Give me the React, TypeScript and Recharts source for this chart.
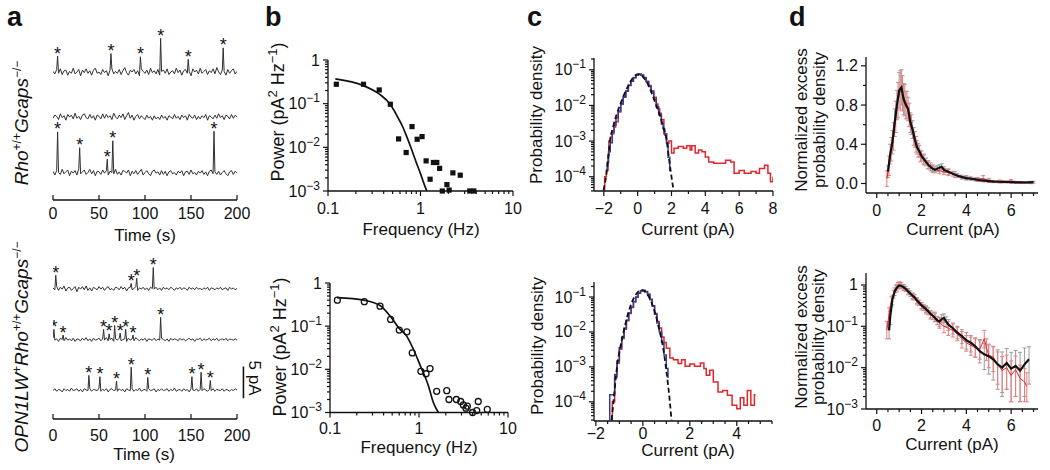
import React from 'react';
import { ComposedChart, Line, Scatter, XAxis, YAxis, ErrorBar, ReferenceLine } from 'recharts';

const FONT = '"Liberation Sans", Arial, Helvetica, sans-serif';
const INK = '#111';
const RED = '#e3262b';
const BLUE = '#2e3f98';

// ---------------- panel a: single-photon response traces ----------------
const aTimeTicks = [0, 50, 100, 150, 200];
const aSampleStep = 2; // seconds between noise samples
type Spike = { t: number; amp: number };

const aTopNoise1 = [
  0.1, -0.3, 0.4, -0.2, 0.5, -0.4, 0.2, 0.3, -0.5, 0.1,
  -0.2, 0.6, -0.3, 0.0, 0.4, -0.6, 0.3, -0.1, 0.5, -0.2,
  0.2, -0.5, 0.3, 0.6, -0.2, 0.0, -0.4, 0.4, -0.1, 0.2,
  -0.6, 0.3, 0.5, -0.3, 0.1, -0.2, 0.4, -0.4, 0.2, 0.7,
  -0.1, -0.5, 0.3, 0.0, 0.4, -0.3, 0.2, -0.6, 0.5, 0.1,
  -0.2, 0.3, -0.4, 0.6, -0.1, 0.2, -0.3, 0.4, -0.5, 0.1,
  0.3, -0.2, 0.5, -0.4, 0.0, 0.2, -0.3, 0.6, -0.1, 0.3,
  -0.5, 0.2, 0.4, -0.2, 0.1, -0.6, 0.5, 0.0, 0.3, -0.3,
  0.6, -0.2, 0.1, 0.4, -0.4, 0.2, -0.1, 0.5, -0.3, 0.7,
  0.0, -0.4, 0.3, 0.1, -0.5, 0.4, -0.2, 0.2, 0.5, -0.3,
  0.1,
];
const aTopNoise2 = [
  -0.2, 0.3, 0.1, -0.4, 0.5, -0.1, 0.2, -0.5, 0.4, 0.0,
  0.3, -0.3, 0.6, -0.2, 0.1, -0.4, 0.3, 0.5, -0.1, -0.3,
  0.4, -0.2, 0.2, -0.5, 0.3, 0.1, -0.3, 0.5, -0.2, 0.4,
  -0.1, 0.2, -0.4, 0.6, 0.0, -0.3, 0.3, -0.1, 0.5, -0.4,
  0.2, 0.7, -0.2, 0.3, -0.5, 0.1, 0.4, -0.3, 0.2, -0.1,
  -0.4, 0.3, -0.2, 0.1, -0.5, 0.2, -0.3, 0.0, -0.4, 0.3,
  -0.2, 0.1, -0.5, 0.2, 0.0, -0.3, 0.4, -0.2, 0.1, -0.4,
  0.3, -0.1, 0.2, -0.5, 0.4, 0.0, -0.2, 0.3, -0.4, 0.1,
  -0.3, 0.2, -0.1, 0.4, -0.5, 0.2, 0.0, -0.3, 0.3, -0.2,
  0.5, -0.1, 0.2, -0.4, 0.3, 0.1, -0.3, 0.4, -0.2, 0.3,
  0.0,
];
const aTopNoise3 = [
  0.2, -0.4, 0.3, 0.0, -0.3, 0.5, -0.2, 0.1, 0.4, -0.5,
  0.2, -0.1, 0.3, -0.4, 0.6, -0.2, 0.1, 0.4, -0.3, 0.0,
  0.5, -0.2, 0.3, -0.5, 0.2, 0.1, -0.3, 0.4, -0.1, 0.3,
  -0.4, 0.2, 0.0, -0.2, 0.5, -0.3, 0.1, -0.4, 0.3, 0.2,
  -0.1, 0.4, -0.5, 0.2, -0.2, 0.3, -0.3, 0.1, 0.5, -0.4,
  0.0, 0.3, -0.2, -0.5, 0.2, 0.4, -0.1, 0.1, -0.4, 0.3,
  -0.3, 0.2, -0.5, 0.1, 0.3, -0.2, 0.0, -0.4, 0.2, -0.1,
  0.3, -0.5, 0.1, 0.2, -0.3, 0.4, -0.2, 0.0, -0.4, 0.2,
  -0.1, 0.3, -0.3, 0.1, -0.5, 0.2, 0.4, -0.2, 0.1, -0.3,
  0.2, -0.4, 0.0, 0.3, -0.2, -0.5, 0.1, 0.3, -0.3, 0.2,
  -0.1,
];
const aBotNoise1 = [
  0.1, -0.2, 0.3, -0.3, 0.2, -0.1, 0.4, -0.4, 0.1, 0.2,
  -0.3, 0.0, 0.3, -0.5, 0.2, -0.1, 0.3, -0.2, 0.4, -0.3,
  0.1, -0.4, 0.2, 0.0, -0.2, 0.3, -0.1, 0.2, -0.3, 0.1,
  0.3, -0.2, 0.0, -0.3, 0.2, 0.1, -0.2, 0.3, -0.1, 0.2,
  -0.4, 0.1, 0.2, -0.2, 0.0, 0.3, -0.3, 0.1, -0.1, 0.2,
  -0.2, 0.1, -0.3, 0.2, 0.0, -0.1, 0.2, -0.2, 0.1, -0.3,
  0.2, -0.1, 0.1, -0.2, 0.2, 0.0, -0.3, 0.1, -0.1, 0.2,
  -0.2, 0.1, 0.0, -0.3, 0.2, -0.1, 0.1, -0.2, 0.2, -0.1,
  0.0, -0.2, 0.1, -0.1, 0.2, -0.3, 0.1, 0.0, -0.2, 0.1,
  -0.1, 0.2, -0.2, 0.0, 0.1, -0.3, 0.2, -0.1, 0.1, -0.2,
  0.0,
];
const aBotNoise2 = [
  0.2, -0.1, 0.1, -0.3, 0.2, 0.0, -0.2, 0.3, -0.1, 0.1,
  -0.2, 0.2, -0.3, 0.1, 0.0, -0.2, 0.2, -0.1, 0.3, -0.2,
  0.1, -0.3, 0.2, -0.1, 0.0, 0.2, -0.2, 0.1, -0.1, 0.3,
  -0.2, 0.0, 0.2, -0.3, 0.1, -0.1, 0.2, -0.2, 0.0, 0.1,
  -0.3, 0.2, -0.1, 0.1, -0.2, 0.3, 0.0, -0.2, 0.1, -0.1,
  0.2, -0.3, 0.1, 0.0, -0.1, 0.2, -0.2, 0.1, -0.1, 0.2,
  0.0, -0.2, 0.1, -0.3, 0.2, -0.1, 0.1, 0.0, -0.2, 0.2,
  -0.1, 0.1, -0.2, 0.0, 0.2, -0.1, 0.1, -0.3, 0.1, 0.0,
  0.2, -0.2, 0.1, -0.1, 0.0, 0.2, -0.2, 0.1, -0.1, 0.2,
  -0.2, 0.0, 0.1, -0.1, 0.2, -0.2, 0.1, 0.0, -0.1, 0.1,
  -0.1,
];
const aBotNoise3 = [
  -0.1, 0.2, -0.2, 0.1, 0.0, -0.3, 0.2, -0.1, 0.1, -0.2,
  0.3, -0.1, 0.0, 0.2, -0.2, 0.1, -0.3, 0.2, 0.0, -0.1,
  0.2, -0.2, 0.1, 0.0, -0.1, 0.3, -0.2, 0.1, -0.1, 0.2,
  -0.3, 0.1, 0.2, -0.1, 0.0, -0.2, 0.2, -0.1, 0.1, -0.3,
  0.2, 0.0, -0.1, 0.2, -0.2, 0.1, -0.1, 0.3, -0.2, 0.0,
  0.1, -0.2, 0.2, -0.1, 0.0, 0.2, -0.3, 0.1, -0.1, 0.2,
  -0.1, 0.0, 0.2, -0.2, 0.1, -0.1, 0.3, -0.2, 0.0, 0.1,
  -0.2, 0.2, -0.1, 0.1, -0.3, 0.2, 0.0, -0.1, 0.2, -0.2,
  0.1, -0.1, 0.2, 0.0, -0.2, 0.1, -0.1, 0.2, -0.2, 0.1,
  0.0, -0.1, 0.2, -0.2, 0.1, 0.0, -0.2, 0.1, -0.1, 0.2,
  0.0,
];

const aTopSpikes1: Spike[] = [
  { t: 5, amp: 2.7 }, { t: 63, amp: 2.4 }, { t: 95, amp: 1.9 },
  { t: 117, amp: 5.2 }, { t: 147, amp: 1.9 }, { t: 185, amp: 3.7 },
];
const aTopSpikes2: Spike[] = [];
const aTopSpikes3: Spike[] = [
  { t: 5, amp: 6.4 }, { t: 29, amp: 4.1 }, { t: 59, amp: 2.5 },
  { t: 65, amp: 5.2 }, { t: 175, amp: 6.4 },
];
const aBotSpikes1: Spike[] = [
  { t: 3, amp: 1.8 }, { t: 85, amp: 1.0 }, { t: 91, amp: 1.9 }, { t: 109, amp: 3.4 },
];
const aBotSpikes2: Spike[] = [
  { t: 1, amp: 1.7 }, { t: 11, amp: 0.9 }, { t: 55, amp: 1.7 }, { t: 61, amp: 0.9 },
  { t: 67, amp: 2.1 }, { t: 73, amp: 1.2 }, { t: 79, amp: 1.9 }, { t: 87, amp: 0.9 },
  { t: 117, amp: 3.3 },
];
const aBotSpikes3: Spike[] = [
  { t: 39, amp: 2.1 }, { t: 51, amp: 2.3 }, { t: 69, amp: 1.6 }, { t: 85, amp: 3.4 },
  { t: 103, amp: 1.8 }, { t: 151, amp: 2.1 }, { t: 161, amp: 2.9 }, { t: 171, amp: 1.6 },
];
const scaleBarPA = 5;

// ---------------- panel b: power spectra ----------------
const bXTicks = [0.1, 0.2, 0.3, 0.4, 0.5, 0.6, 0.7, 0.8, 0.9, 1, 2, 3, 4, 5, 6, 7, 8, 9, 10];
const bTopPoints: [number, number][] = [
  [0.123, 0.278], [0.242, 0.278], [0.358, 0.206], [0.472, 0.097], [0.58, 0.0156],
  [0.70, 0.0076], [0.81, 0.0298], [0.92, 0.0153], [1.04, 0.0176], [1.15, 0.0049],
  [1.27, 0.00186], [1.38, 0.0045], [1.50, 0.0045], [1.61, 0.0033], [1.72, 0.001],
  [1.93, 0.0014], [2.04, 0.00105], [2.24, 0.0026], [2.69, 0.0023], [3.41, 0.001], [3.77, 0.001],
];
const bTopFit: [number, number][] = [
  [0.12, 0.37], [0.24, 0.26], [0.36, 0.165], [0.47, 0.097], [0.58, 0.045], [0.64, 0.03],
  [0.70, 0.019], [0.80, 0.009], [0.90, 0.0045], [1.0, 0.0025], [1.1, 0.0014], [1.17, 0.001],
];
const bBotPoints: [number, number][] = [
  [0.121, 0.40], [0.243, 0.37], [0.365, 0.29], [0.48, 0.143], [0.60, 0.081], [0.73, 0.074],
  [0.84, 0.024], [1.05, 0.009], [1.20, 0.0079], [1.33, 0.0104], [1.58, 0.0031], [2.05, 0.0032],
  [2.17, 0.0020], [2.63, 0.0020], [2.94, 0.0018], [3.15, 0.0015], [3.37, 0.00126], [3.49, 0.0014],
  [4.0, 0.001], [4.45, 0.00111], [4.63, 0.0018], [5.85, 0.00118],
];
const bBotFit: [number, number][] = [
  [0.12, 0.46], [0.24, 0.40], [0.365, 0.30], [0.48, 0.165], [0.60, 0.089], [0.73, 0.058],
  [0.86, 0.030], [1.05, 0.0113], [1.27, 0.0043], [1.45, 0.0017], [1.65, 0.001],
];

// ---------------- panel c: amplitude histograms ----------------
const cTopXTicks = [-2, -1, 0, 1, 2, 3, 4, 5, 6, 7, 8];
const cBotXTicks = [-2, -1.5, -1, -0.5, 0, 0.5, 1, 1.5, 2, 2.5, 3, 3.5, 4, 4.5, 5, 5.5];
const cTopFit: [number, number][] = [
  [-2.02, 4.2e-5], [-1.87, 1e-4], [-1.75, 3e-4], [-1.64, 1e-3], [-1.45, 2.5e-3], [-1.25, 5.5e-3],
  [-1.05, 0.01], [-0.8, 0.02], [-0.5, 0.04], [-0.25, 0.062], [0.05, 0.075], [0.3, 0.064],
  [0.6, 0.04], [0.85, 0.021], [1.1, 0.01], [1.3, 5.5e-3], [1.5, 2.6e-3], [1.72, 1e-3],
  [1.86, 3e-4], [2.0, 1e-4], [2.12, 4.2e-5],
];
const cTopDark: [number, number][] = [
  [-1.87, 1.5e-4], [-1.8, 2.5e-4], [-1.72, 5e-4], [-1.62, 9e-4], [-1.5, 1.8e-3], [-1.4, 2.8e-3],
  [-1.28, 4.5e-3], [-1.15, 7e-3], [-1.0, 1.1e-2], [-0.85, 1.7e-2], [-0.7, 2.5e-2], [-0.55, 3.6e-2],
  [-0.4, 4.8e-2], [-0.25, 6.0e-2], [-0.1, 7.0e-2], [0.05, 7.6e-2], [0.2, 7.0e-2], [0.35, 6.0e-2],
  [0.5, 4.6e-2], [0.65, 3.4e-2], [0.8, 2.4e-2], [0.95, 1.5e-2], [1.1, 9e-3], [1.25, 5.5e-3],
  [1.4, 3e-3], [1.5, 2.2e-3], [1.6, 1.5e-3], [1.7, 9e-4], [1.8, 3.5e-4], [1.9, 1.5e-4], [1.95, 1.5e-4],
];
const cTopDim: [number, number][] = [
  [-2.0, 4.2e-5], [-1.95, 1e-4], [-1.85, 1.5e-4], [-1.75, 4e-4], [-1.7, 1.0e-3], [-1.6, 1.3e-3],
  [-1.5, 1.6e-3], [-1.4, 2.5e-3], [-1.3, 3.5e-3], [-1.15, 6.5e-3], [-1.0, 1.1e-2], [-0.85, 1.8e-2],
  [-0.7, 2.6e-2], [-0.55, 3.7e-2], [-0.4, 4.9e-2], [-0.25, 6.1e-2], [-0.1, 7.1e-2], [0.05, 7.5e-2],
  [0.2, 7.1e-2], [0.35, 6.1e-2], [0.5, 4.8e-2], [0.65, 3.6e-2], [0.8, 2.6e-2], [0.95, 1.7e-2],
  [1.1, 1.1e-2], [1.2, 8e-3], [1.3, 6e-3], [1.4, 4e-3], [1.55, 1.6e-3], [1.72, 8.7e-4],
  [1.85, 1e-3], [2.0, 4.6e-4], [2.15, 6.3e-4], [2.4, 7e-4], [2.7, 6.3e-4], [2.9, 7.4e-4],
  [3.1, 5.6e-4], [3.2, 7.4e-4], [3.4, 4.6e-4], [3.6, 5.6e-4], [3.8, 5e-4], [4.0, 3.6e-4],
  [4.2, 2.6e-4], [4.5, 2.4e-4], [4.9, 2.4e-4], [5.2, 2.9e-4], [5.5, 2.6e-4], [5.7, 1.26e-4],
  [6.0, 1.5e-4], [6.3, 1.26e-4], [6.7, 1.4e-4], [7.0, 1.26e-4], [7.2, 1.7e-4], [7.5, 2.1e-4],
  [7.7, 1.26e-4], [7.85, 7.2e-5], [8.0, 1e-4],
];
const cBotFit: [number, number][] = [
  [-1.33, 3e-5], [-1.25, 1e-4], [-1.1, 1e-3], [-0.95, 4e-3], [-0.82, 0.01], [-0.65, 0.03],
  [-0.45, 0.075], [-0.25, 0.13], [-0.05, 0.16], [0.15, 0.13], [0.35, 0.075], [0.55, 0.03],
  [0.72, 0.01], [0.85, 4e-3], [0.98, 1e-3], [1.15, 1e-4], [1.22, 3e-5],
];
const cBotDark: [number, number][] = [
  [-1.42, 3e-5], [-1.41, 1.6e-4], [-1.3, 1.6e-4], [-1.2, 6e-4], [-1.1, 1.5e-3], [-1.0, 3.5e-3],
  [-0.9, 7e-3], [-0.8, 1.3e-2], [-0.7, 2.2e-2], [-0.6, 3.5e-2], [-0.5, 5.2e-2], [-0.4, 7.5e-2],
  [-0.3, 1.0e-1], [-0.2, 1.3e-1], [-0.1, 1.5e-1], [0.0, 1.55e-1], [0.1, 1.45e-1], [0.2, 1.2e-1],
  [0.3, 8.5e-2], [0.4, 5.5e-2], [0.5, 3.2e-2], [0.6, 1.8e-2], [0.7, 1.0e-2], [0.8, 5e-3],
  [0.9, 2.2e-3], [1.0, 9e-4], [1.07, 4.8e-4],
];
const cBotDim: [number, number][] = [
  [-1.33, 3e-5], [-1.3, 1e-4], [-1.2, 5e-4], [-1.1, 1.3e-3], [-1.0, 3.2e-3], [-0.9, 6.5e-3],
  [-0.8, 1.2e-2], [-0.7, 2.1e-2], [-0.6, 3.4e-2], [-0.5, 5.0e-2], [-0.4, 7.3e-2], [-0.3, 9.8e-2],
  [-0.2, 1.28e-1], [-0.1, 1.48e-1], [0.0, 1.52e-1], [0.1, 1.42e-1], [0.2, 1.18e-1], [0.3, 8.5e-2],
  [0.4, 5.6e-2], [0.5, 3.4e-2], [0.6, 2.0e-2], [0.7, 1.3e-2], [0.8, 7.2e-3], [0.9, 5e-3],
  [1.0, 3.4e-3], [1.15, 1.8e-3], [1.3, 1.6e-3], [1.5, 1.25e-3], [1.65, 1.6e-3], [1.8, 1.05e-3],
  [2.0, 1.2e-3], [2.2, 1.05e-3], [2.45, 1.3e-3], [2.6, 9e-4], [2.7, 5.8e-4], [2.85, 8e-4],
  [3.0, 3.7e-4], [3.2, 1.9e-4], [3.4, 2.1e-4], [3.6, 1.55e-4], [3.8, 8e-5], [4.0, 6.3e-5],
  [4.15, 1.3e-4], [4.3, 8e-5], [4.45, 2.1e-4], [4.6, 8e-5], [4.75, 1.6e-4], [4.8, 1.6e-4],
];

// ---------------- panel d: normalized excess density ----------------
const dXTicks = [0, 0.5, 1, 1.5, 2, 2.5, 3, 3.5, 4, 4.5, 5, 5.5, 6, 6.5, 7];
const dTopYTicks = [0, 0.2, 0.4, 0.6, 0.8, 1.0, 1.2];
// [current, value, error]
const dTopMean: [number, number, number][] = [
  [0.5, 0.12, 0.06], [0.6, 0.30, 0.10], [0.7, 0.42, 0.12], [0.8, 0.62, 0.14], [0.9, 0.80, 0.15],
  [1.0, 0.95, 0.18], [1.1, 0.98, 0.18], [1.2, 0.86, 0.16], [1.3, 0.80, 0.14], [1.4, 0.76, 0.12],
  [1.5, 0.62, 0.10], [1.6, 0.55, 0.09], [1.7, 0.45, 0.08], [1.8, 0.37, 0.07], [1.9, 0.33, 0.06],
  [2.0, 0.28, 0.05], [2.1, 0.25, 0.05], [2.2, 0.22, 0.04], [2.3, 0.19, 0.04], [2.4, 0.17, 0.04],
  [2.5, 0.15, 0.03], [2.6, 0.14, 0.03], [2.7, 0.15, 0.03], [2.8, 0.16, 0.03], [2.9, 0.17, 0.03],
  [3.0, 0.14, 0.03], [3.2, 0.12, 0.03], [3.4, 0.10, 0.025], [3.6, 0.08, 0.02], [3.8, 0.065, 0.02],
  [4.0, 0.055, 0.02], [4.2, 0.05, 0.018], [4.4, 0.042, 0.016], [4.6, 0.035, 0.015], [4.8, 0.03, 0.014],
  [5.0, 0.025, 0.012], [5.2, 0.02, 0.012], [5.4, 0.018, 0.01], [5.6, 0.016, 0.01], [5.8, 0.015, 0.01],
  [6.0, 0.013, 0.01], [6.2, 0.012, 0.01], [6.4, 0.011, 0.01], [6.6, 0.010, 0.01], [6.8, 0.012, 0.01],
  [7.0, 0.013, 0.01],
];
const dTopAlt: [number, number, number][] = [
  [0.45, 0.05, 0.08], [0.55, 0.18, 0.10], [0.65, 0.35, 0.12], [0.75, 0.48, 0.14], [0.85, 0.68, 0.16],
  [0.95, 0.85, 0.18], [1.05, 0.95, 0.2], [1.15, 0.92, 0.18], [1.25, 0.85, 0.16], [1.35, 0.80, 0.14],
  [1.45, 0.70, 0.12], [1.55, 0.60, 0.10], [1.65, 0.48, 0.09], [1.75, 0.40, 0.08], [1.85, 0.34, 0.07],
  [1.95, 0.28, 0.06], [2.1, 0.24, 0.05], [2.3, 0.19, 0.04], [2.5, 0.15, 0.04], [2.8, 0.13, 0.03],
  [3.0, 0.12, 0.03], [3.2, 0.11, 0.03], [3.5, 0.09, 0.03], [4.0, 0.06, 0.02], [4.5, 0.04, 0.02],
  [4.75, 0.05, 0.03], [5.0, 0.03, 0.02], [5.5, 0.02, 0.015], [6.0, 0.025, 0.015], [6.5, 0.01, 0.01],
  [6.9, 0.008, 0.01],
];
// [current, value, lower error, upper error]
const dBotMean: [number, number, number, number][] = [
  [0.55, 0.08, 0.03, 0.04], [0.6, 0.17, 0.06, 0.06], [0.7, 0.45, 0.12, 0.12], [0.8, 0.70, 0.15, 0.15],
  [0.9, 0.86, 0.15, 0.18], [1.0, 0.98, 0.15, 0.2], [1.1, 0.95, 0.14, 0.18], [1.2, 0.88, 0.12, 0.15],
  [1.3, 0.80, 0.11, 0.13], [1.4, 0.70, 0.10, 0.12], [1.5, 0.62, 0.09, 0.1], [1.6, 0.55, 0.08, 0.09],
  [1.7, 0.50, 0.07, 0.08], [1.8, 0.42, 0.06, 0.07], [1.9, 0.37, 0.05, 0.06], [2.0, 0.32, 0.05, 0.06],
  [2.1, 0.29, 0.05, 0.05], [2.2, 0.26, 0.04, 0.05], [2.3, 0.23, 0.04, 0.05], [2.4, 0.20, 0.04, 0.04],
  [2.5, 0.18, 0.035, 0.04], [2.6, 0.16, 0.03, 0.04], [2.7, 0.14, 0.03, 0.035], [2.8, 0.13, 0.03, 0.035],
  [2.9, 0.15, 0.03, 0.04], [3.0, 0.16, 0.035, 0.04], [3.1, 0.13, 0.03, 0.04], [3.2, 0.11, 0.03, 0.035],
  [3.4, 0.09, 0.025, 0.03], [3.6, 0.07, 0.02, 0.03], [3.8, 0.058, 0.02, 0.025], [4.0, 0.046, 0.018, 0.025],
  [4.2, 0.040, 0.016, 0.02], [4.4, 0.033, 0.015, 0.02], [4.6, 0.025, 0.012, 0.02], [4.8, 0.021, 0.012, 0.018],
  [5.0, 0.019, 0.012, 0.018], [5.2, 0.016, 0.011, 0.016], [5.4, 0.012, 0.009, 0.015], [5.6, 0.010, 0.008, 0.014],
  [5.8, 0.013, 0.01, 0.016], [6.0, 0.0095, 0.008, 0.014], [6.2, 0.011, 0.009, 0.015], [6.4, 0.0085, 0.007, 0.015],
  [6.6, 0.012, 0.01, 0.018], [6.8, 0.016, 0.012, 0.016],
];
const dBotAlt: [number, number, number, number][] = [
  [0.45, 0.08, 0.03, 0.05], [0.55, 0.2, 0.07, 0.08], [0.65, 0.4, 0.1, 0.12], [0.75, 0.6, 0.12, 0.15],
  [0.85, 0.8, 0.15, 0.18], [0.95, 0.95, 0.15, 0.2], [1.05, 0.98, 0.15, 0.2], [1.2, 0.85, 0.12, 0.15],
  [1.4, 0.68, 0.1, 0.12], [1.6, 0.52, 0.08, 0.1], [1.8, 0.40, 0.07, 0.08], [2.0, 0.30, 0.05, 0.07],
  [2.2, 0.25, 0.05, 0.06], [2.4, 0.19, 0.04, 0.05], [2.6, 0.17, 0.04, 0.05], [2.8, 0.12, 0.03, 0.04],
  [3.0, 0.10, 0.03, 0.04], [3.2, 0.09, 0.03, 0.04], [3.4, 0.08, 0.025, 0.035], [3.6, 0.065, 0.02, 0.03],
  [3.8, 0.05, 0.02, 0.025], [4.0, 0.04, 0.015, 0.02], [4.2, 0.035, 0.015, 0.02], [4.4, 0.03, 0.012, 0.02],
  [4.6, 0.028, 0.012, 0.02], [4.8, 0.05, 0.02, 0.03], [4.9, 0.03, 0.015, 0.02], [5.0, 0.02, 0.01, 0.015],
  [5.2, 0.018, 0.01, 0.015], [5.4, 0.012, 0.008, 0.012], [5.6, 0.0085, 0.006, 0.01], [5.8, 0.01, 0.007, 0.01],
  [6.0, 0.0065, 0.005, 0.008], [6.2, 0.009, 0.007, 0.01], [6.4, 0.0055, 0.004, 0.006], [6.6, 0.0045, 0.003, 0.005],
  [6.7, 0.0035, 0.002, 0.004],
];

// ---------------- helpers ----------------
type Rect = { x0: number; x1: number; y0: number; y1: number };
type Pad = { l: number; r: number; t: number; b: number };

function logTicks(lo: number, hi: number) {
  const out: number[] = [];
  for (let e = Math.floor(lo); e <= Math.ceil(hi); e++) {
    for (let m = 1; m <= 9; m++) {
      const v = m * Math.pow(10, e);
      const lv = Math.log10(v);
      if (lv >= lo - 1e-9 && lv <= hi + 1e-9) out.push(v);
    }
  }
  return out;
}
const isLogMajor = (v: number) => Math.abs(Math.log10(v) - Math.round(Math.log10(v))) < 1e-6;
const powLabel = (v: number): React.ReactNode => {
  const e = Math.round(Math.log10(v));
  if (e === 0) return '1';
  return (
    <>
      <tspan>10</tspan>
      <tspan dy={-7} fontSize={12}>{'\u2212' + Math.abs(e)}</tspan>
    </>
  );
};
const numLabel = (v: number) => (v < 0 ? '\u2212' + Math.abs(v) : String(v));
const every = (step: number) => (v: number) => Math.abs(v / step - Math.round(v / step)) < 1e-6;

type TickCfg = {
  side: 'left' | 'bottom';
  major: (v: number) => boolean;
  label: (v: number) => React.ReactNode;
  gap: number;
  inward?: boolean;
  majorLen?: number;
  minorLen?: number;
};
function makeTick(c: TickCfg) {
  const ml = c.majorLen ?? 5;
  const nl = c.minorLen ?? 3;
  return (p: any) => {
    const v = p.payload.value;
    const isM = c.major(v);
    const len = isM ? ml : nl;
    const s = c.inward ? -1 : 1;
    if (c.side === 'bottom') {
      return (
        <g>
          <line x1={p.x} y1={p.y} x2={p.x} y2={p.y + s * len} stroke={INK} strokeWidth={1.2} />
          {isM ? (
            <text x={p.x} y={p.y + c.gap} textAnchor="middle" fontSize={16} fontFamily={FONT} fill={INK}>
              {c.label(v)}
            </text>
          ) : null}
        </g>
      );
    }
    return (
      <g>
        <line x1={p.x} y1={p.y} x2={p.x - s * len} y2={p.y} stroke={INK} strokeWidth={1.2} />
        {isM ? (
          <text x={p.x - c.gap} y={p.y + 5.5} textAnchor="end" fontSize={16} fontFamily={FONT} fill={INK}>
            {c.label(v)}
          </text>
        ) : null}
      </g>
    );
  };
}

const axisLine = { stroke: INK, strokeWidth: 1.3 };

function Box({ rect, pad, marginLeft = 0, children }: { rect: Rect; pad: Pad; marginLeft?: number; children: React.ReactNode }) {
  return (
    <div style={{ position: 'absolute', left: rect.x0 - pad.l, top: rect.y0 - pad.t }}>
      <ComposedChart
        width={rect.x1 - rect.x0 + pad.l + pad.r}
        height={rect.y1 - rect.y0 + pad.t + pad.b}
        margin={{ top: pad.t, right: pad.r, bottom: 0, left: marginLeft }}
      >
        {children}
      </ComposedChart>
    </div>
  );
}

const pairs = (arr: [number, number][], kx: string, ky: string) => arr.map(([a, b]) => ({ [kx]: a, [ky]: b }));

// ---------------- panel a ----------------
function buildTrace(noise: number[], spikes: Spike[]) {
  const pts = noise.map((v, i) => ({ t: i * aSampleStep, v }));
  const tops = spikes.map((s) => ({ t: s.t, v: noise[Math.round(s.t / aSampleStep)] + s.amp }));
  return { line: [...pts, ...tops].sort((a, b) => a.t - b.t), tops };
}

const asterisk = (p: any) => (
  <text x={p.cx} y={p.cy + 3.5} textAnchor="middle" fontSize={18} fontFamily={FONT} fill={INK} stroke="none">
    *
  </text>
);

function TracePanel({ rect, traces, baselines, labelGap, withScale }: {
  rect: Rect; traces: { noise: number[]; spikes: Spike[] }[]; baselines: number[]; labelGap: number; withScale?: boolean;
}) {
  const pxPerPA = 6.35;
  const pad: Pad = { l: 12, r: 30, t: 0, b: 26 };
  const built = traces.map((t) => buildTrace(t.noise, t.spikes));
  return (
    <Box rect={rect} pad={pad} marginLeft={pad.l}>
      <XAxis
        type="number" dataKey="t" domain={[0, 200]} ticks={aTimeTicks} interval={0} allowDataOverflow
        height={pad.b} tickSize={0} tickMargin={0} tickLine={false} axisLine={axisLine}
        tick={makeTick({ side: 'bottom', major: () => true, label: numLabel, gap: labelGap, inward: true })}
      />
      {built.map((_, k) => (
        <YAxis
          key={'y' + k} yAxisId={k} hide type="number" dataKey="v" allowDataOverflow
          domain={[-(rect.y1 - baselines[k]) / pxPerPA, (baselines[k] - rect.y0) / pxPerPA]}
        />
      ))}
      {built.map((b, k) => (
        <Line key={'l' + k} yAxisId={k} data={b.line} dataKey="v" type="linear" stroke="#303030"
          strokeWidth={1} dot={false} activeDot={false} isAnimationActive={false} />
      ))}
      {built.map((b, k) => (
        <Scatter key={'s' + k} yAxisId={k} data={b.tops} dataKey="v" fill={INK} shape={asterisk} isAnimationActive={false} />
      ))}
      {withScale ? (
        <ReferenceLine
          yAxisId={2}
          segment={[{ x: 207, y: -1.3 }, { x: 207, y: -1.3 + scaleBarPA }]}
          stroke={INK} strokeWidth={1.6} ifOverflow="visible"
        />
      ) : null}
    </Box>
  );
}

// ---------------- panel b ----------------
const square = (p: any) => <rect x={p.cx - 2.6} y={p.cy - 2.6} width={5.2} height={5.2} fill={INK} />;
const ring = (p: any) => <circle cx={p.cx} cy={p.cy} r={3} fill="none" stroke={INK} strokeWidth={1.3} />;

function PowerPanel({ rect, points, fit, open, labelGap }: {
  rect: Rect; points: [number, number][]; fit: [number, number][]; open?: boolean; labelGap: number;
}) {
  const pad: Pad = { l: 52, r: 12, t: 12, b: 28 };
  return (
    <Box rect={rect} pad={pad}>
      <XAxis
        type="number" dataKey="f" scale="log" domain={[0.1, 10]} ticks={bXTicks} interval={0}
        height={pad.b} tickSize={0} tickMargin={0} tickLine={false} axisLine={axisLine}
        tick={makeTick({ side: 'bottom', major: isLogMajor, label: (v) => String(v), gap: labelGap })}
      />
      <YAxis
        type="number" dataKey="p" scale="log" domain={[1e-3, 1]} ticks={logTicks(-3, 0)} interval={0}
        width={pad.l} tickSize={0} tickMargin={0} tickLine={false} axisLine={axisLine}
        tick={makeTick({ side: 'left', major: isLogMajor, label: powLabel, gap: 8 })}
      />
      <Line data={pairs(fit, 'f', 'p')} dataKey="p" type="monotone" stroke={INK} strokeWidth={1.7}
        dot={false} activeDot={false} isAnimationActive={false} />
      <Scatter data={pairs(points, 'f', 'p')} dataKey="p" fill={INK} shape={open ? ring : square} isAnimationActive={false} />
    </Box>
  );
}

// ---------------- panel c ----------------
function HistPanel({ rect, xDomain, yLog, xTicks, fit, dark, dim, labelGap }: {
  rect: Rect; xDomain: [number, number]; yLog: [number, number]; xTicks: number[];
  fit: [number, number][]; dark: [number, number][]; dim: [number, number][]; labelGap: number;
}) {
  const pad: Pad = { l: 56, r: 12, t: 12, b: 28 };
  return (
    <Box rect={rect} pad={pad}>
      <XAxis
        type="number" dataKey="i" domain={xDomain} ticks={xTicks} interval={0} allowDataOverflow
        height={pad.b} tickSize={0} tickMargin={0} tickLine={false} axisLine={axisLine}
        tick={makeTick({ side: 'bottom', major: every(2), label: numLabel, gap: labelGap })}
      />
      <YAxis
        type="number" dataKey="p" scale="log" domain={[Math.pow(10, yLog[0]), Math.pow(10, yLog[1])]}
        ticks={logTicks(yLog[0], yLog[1])} interval={0}
        width={pad.l} tickSize={0} tickMargin={0} tickLine={false} axisLine={axisLine}
        tick={makeTick({ side: 'left', major: isLogMajor, label: powLabel, gap: 8 })}
      />
      <Line data={pairs(dim, 'i', 'p')} dataKey="p" type="stepAfter" stroke={RED} strokeWidth={1.5}
        dot={false} activeDot={false} isAnimationActive={false} />
      <Line data={pairs(dark, 'i', 'p')} dataKey="p" type="stepAfter" stroke={BLUE} strokeWidth={1.5}
        dot={false} activeDot={false} isAnimationActive={false} />
      <Line data={pairs(fit, 'i', 'p')} dataKey="p" type="monotone" stroke={INK} strokeWidth={1.8}
        strokeDasharray="5 3" dot={false} activeDot={false} isAnimationActive={false} />
    </Box>
  );
}

// ---------------- panel d ----------------
function ExcessTopPanel({ rect }: { rect: Rect }) {
  const pad: Pad = { l: 50, r: 12, t: 12, b: 28 };
  const mean = dTopMean.map(([i, y, e]) => ({ i, y, e }));
  const alt = dTopAlt.map(([i, y, e]) => ({ i, y, e }));
  return (
    <Box rect={rect} pad={pad}>
      <XAxis
        type="number" dataKey="i" domain={[-0.48, 7.2]} ticks={dXTicks} interval={0} allowDataOverflow
        height={pad.b} tickSize={0} tickMargin={0} tickLine={false} axisLine={axisLine}
        tick={makeTick({ side: 'bottom', major: every(2), label: numLabel, gap: 23 })}
      />
      <YAxis
        type="number" dataKey="y" domain={[-0.097, 1.29]} ticks={dTopYTicks} interval={0} allowDataOverflow
        width={pad.l} tickSize={0} tickMargin={0} tickLine={false} axisLine={axisLine}
        tick={makeTick({ side: 'left', major: every(0.4), label: (v) => v.toFixed(1), gap: 8 })}
      />
      <Line data={mean} dataKey="y" stroke="none" dot={false} activeDot={false} isAnimationActive={false}>
        <ErrorBar dataKey="e" direction="y" stroke="#9a9a9a" strokeWidth={1} width={2} isAnimationActive={false} />
      </Line>
      <Line data={alt} dataKey="y" stroke={RED} strokeWidth={1} dot={false} activeDot={false} isAnimationActive={false}>
        <ErrorBar dataKey="e" direction="y" stroke="#ef7b7b" strokeWidth={1} width={2} isAnimationActive={false} />
      </Line>
      <Line data={mean} dataKey="y" stroke={INK} strokeWidth={2.2} dot={false} activeDot={false} isAnimationActive={false} />
    </Box>
  );
}

function ExcessBotPanel({ rect }: { rect: Rect }) {
  const pad: Pad = { l: 50, r: 12, t: 12, b: 28 };
  const mean = dBotMean.map(([i, y, lo, hi]) => ({ i, y, e: [lo, hi] }));
  const alt = dBotAlt.map(([i, y, lo, hi]) => ({ i, y, e: [lo, hi] }));
  return (
    <Box rect={rect} pad={pad}>
      <XAxis
        type="number" dataKey="i" domain={[-0.48, 7.2]} ticks={dXTicks} interval={0} allowDataOverflow
        height={pad.b} tickSize={0} tickMargin={0} tickLine={false} axisLine={axisLine}
        tick={makeTick({ side: 'bottom', major: every(2), label: numLabel, gap: 22 })}
      />
      <YAxis
        type="number" dataKey="y" scale="log" domain={[1e-3, Math.pow(10, 0.29)]} ticks={logTicks(-3, 0.29)}
        interval={0} allowDataOverflow
        width={pad.l} tickSize={0} tickMargin={0} tickLine={false} axisLine={axisLine}
        tick={makeTick({ side: 'left', major: isLogMajor, label: powLabel, gap: 8 })}
      />
      <Line data={mean} dataKey="y" stroke="none" dot={false} activeDot={false} isAnimationActive={false}>
        <ErrorBar dataKey="e" direction="y" stroke="#9a9a9a" strokeWidth={1} width={2} isAnimationActive={false} />
      </Line>
      <Line data={alt} dataKey="y" stroke={RED} strokeWidth={1} dot={false} activeDot={false} isAnimationActive={false}>
        <ErrorBar dataKey="e" direction="y" stroke="#ef7b7b" strokeWidth={1} width={2} isAnimationActive={false} />
      </Line>
      <Line data={mean} dataKey="y" stroke={INK} strokeWidth={2.2} dot={false} activeDot={false} isAnimationActive={false} />
    </Box>
  );
}

// ---------------- text overlay ----------------
function Overlay() {
  const base = { fontFamily: FONT, fill: INK } as const;
  const sup = (s: string, size = 12) => (
    <tspan dy={-7} fontSize={size} fontStyle="normal">{s}</tspan>
  );
  const down = (s: string, italic = true) => (
    <tspan dy={7} fontStyle={italic ? 'italic' : 'normal'}>{s}</tspan>
  );
  return (
    <svg width={1050} height={470} style={{ position: 'absolute', left: 0, top: 0, pointerEvents: 'none' }}>
      <text x={7} y={26} fontSize={27} fontWeight="bold" {...base}>a</text>
      <text x={265} y={26} fontSize={27} fontWeight="bold" {...base}>b</text>
      <text x={527} y={26} fontSize={27} fontWeight="bold" {...base}>c</text>
      <text x={789} y={26} fontSize={27} fontWeight="bold" {...base}>d</text>

      <text x={145} y={241} fontSize={17} textAnchor="middle" {...base}>Time (s)</text>
      <text x={144} y={460} fontSize={17} textAnchor="middle" {...base}>Time (s)</text>
      <text x={421} y={235} fontSize={17} textAnchor="middle" {...base}>Frequency (Hz)</text>
      <text x={419} y={453} fontSize={17} textAnchor="middle" {...base}>Frequency (Hz)</text>
      <text x={688} y={235} fontSize={17} textAnchor="middle" {...base}>Current (pA)</text>
      <text x={688} y={456} fontSize={17} textAnchor="middle" {...base}>Current (pA)</text>
      <text x={953} y={235} fontSize={17} textAnchor="middle" {...base}>Current (pA)</text>
      <text x={952} y={450} fontSize={17} textAnchor="middle" {...base}>Current (pA)</text>

      <text transform="translate(28,123) rotate(-90)" fontSize={19} textAnchor="middle" {...base}>
        <tspan fontStyle="italic">Rho</tspan>{sup('+/+')}{down('Gcaps')}{sup('\u2212/\u2212')}
      </text>
      <text transform="translate(28,347) rotate(-90)" fontSize={19} textAnchor="middle" {...base}>
        <tspan fontStyle="italic">OPN1LW</tspan>{sup('+')}{down('Rho')}{sup('+/+')}{down('Gcaps')}{sup('\u2212/\u2212')}
      </text>
      <text transform="translate(249,378) rotate(90)" fontSize={17} textAnchor="middle" {...base}>5 pA</text>

      {[112, 347].map((cy, k) => (
        <text key={'pw' + k} transform={`translate(${k === 0 ? 284 : 286},${cy}) rotate(-90)`} fontSize={18} textAnchor="middle" {...base}>
          Power (pA{sup('2', 13)}{down(' Hz', false)}{sup('\u22121', 13)}{down(')', false)}
        </text>
      ))}
      <text transform="translate(542,115) rotate(-90)" fontSize={17} textAnchor="middle" {...base}>Probability density</text>
      <text transform="translate(543,346) rotate(-90)" fontSize={17} textAnchor="middle" {...base}>Probability density</text>

      <text transform="translate(807,120) rotate(-90)" fontSize={17} textAnchor="middle" {...base}>Normalized excess</text>
      <text transform="translate(825,120) rotate(-90)" fontSize={17} textAnchor="middle" {...base}>probability density</text>
      <text transform="translate(807,337) rotate(-90)" fontSize={17} textAnchor="middle" {...base}>Normalized excess</text>
      <text transform="translate(824,337) rotate(-90)" fontSize={17} textAnchor="middle" {...base}>probability density</text>
    </svg>
  );
}

export default function App() {
  return (
    <div style={{ position: 'absolute', left: 0, top: 0, width: 1050, height: 470, background: '#fff', overflow: 'hidden' }}>
      <TracePanel
        rect={{ x0: 53, x1: 237, y0: 20, y1: 200 }}
        traces={[
          { noise: aTopNoise1, spikes: aTopSpikes1 },
          { noise: aTopNoise2, spikes: aTopSpikes2 },
          { noise: aTopNoise3, spikes: aTopSpikes3 },
        ]}
        baselines={[72, 117, 172.5]}
        labelGap={19}
      />
      <TracePanel
        rect={{ x0: 53, x1: 237, y0: 240, y1: 419 }}
        traces={[
          { noise: aBotNoise1, spikes: aBotSpikes1 },
          { noise: aBotNoise2, spikes: aBotSpikes2 },
          { noise: aBotNoise3, spikes: aBotSpikes3 },
        ]}
        baselines={[288.5, 339.5, 390]}
        labelGap={22}
        withScale
      />
      <PowerPanel rect={{ x0: 328, x1: 513, y0: 60, y1: 191 }} points={bTopPoints} fit={bTopFit} labelGap={23} />
      <PowerPanel rect={{ x0: 330, x1: 508, y0: 283, y1: 412.5 }} points={bBotPoints} fit={bBotFit} open labelGap={21} />
      <HistPanel rect={{ x0: 594, x1: 773, y0: 58, y1: 191 }} xDomain={[-2.58, 8]} yLog={[-4.4, -0.67]}
        xTicks={cTopXTicks} fit={cTopFit} dark={cTopDark} dim={cTopDim} labelGap={23} />
      <HistPanel rect={{ x0: 594, x1: 772, y0: 282, y1: 421 }} xDomain={[-2.08, 5.5]} yLog={[-4.55, -0.57]}
        xTicks={cBotXTicks} fit={cBotFit} dark={cBotDark} dim={cBotDim} labelGap={18} />
      <ExcessTopPanel rect={{ x0: 866, x1: 1038, y0: 57, y1: 193 }} />
      <ExcessBotPanel rect={{ x0: 866, x1: 1038, y0: 273, y1: 409 }} />
      <Overlay />
    </div>
  );
}
